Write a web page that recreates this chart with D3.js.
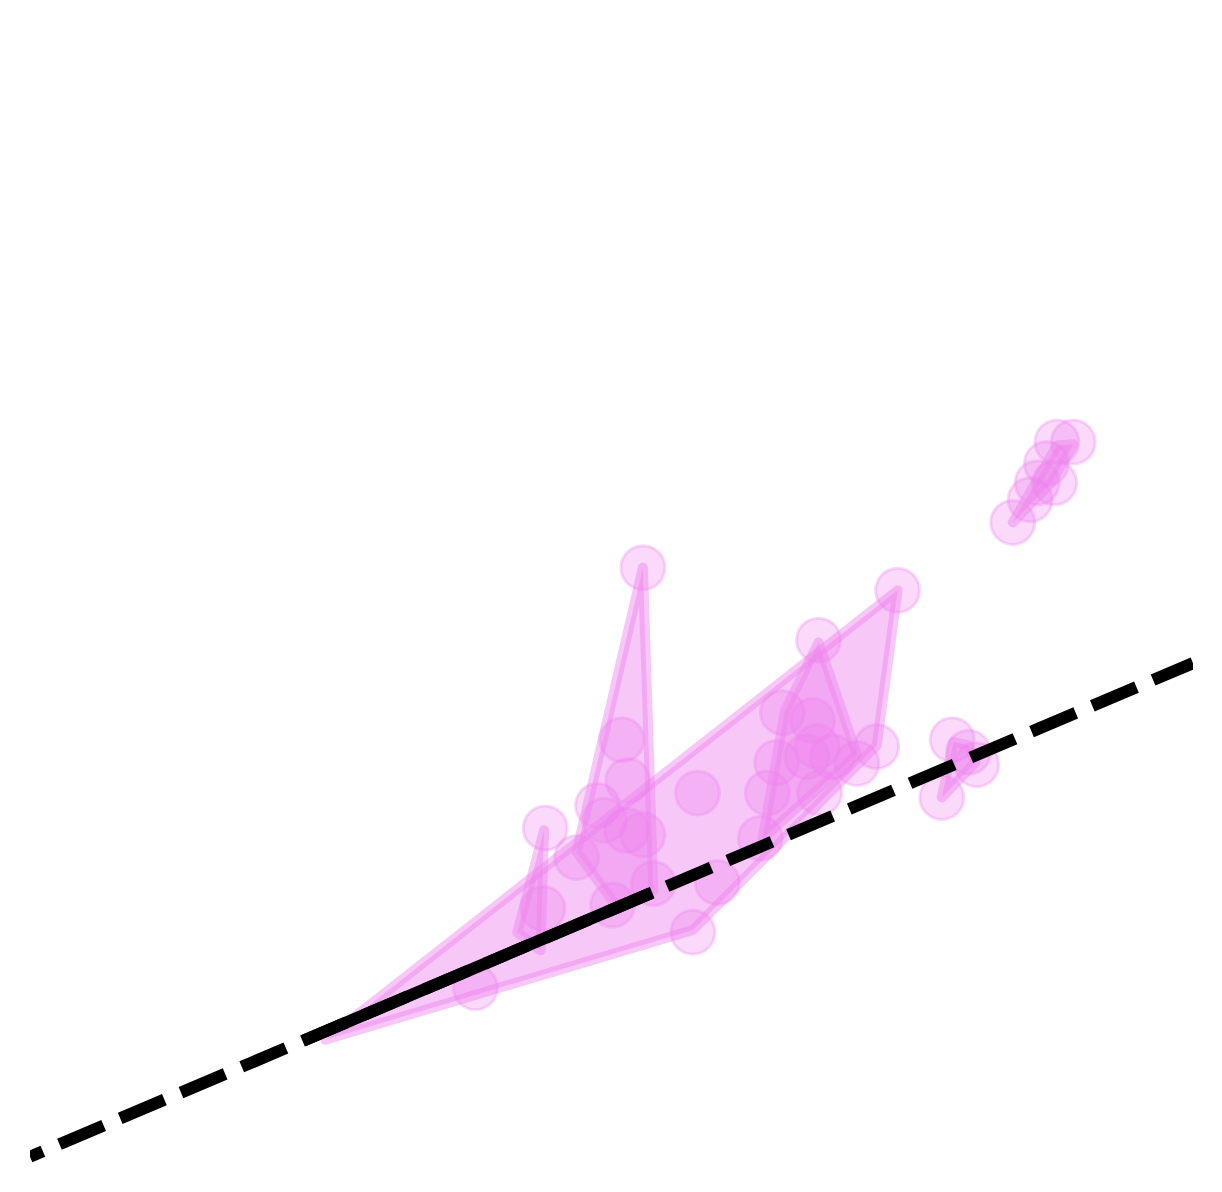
<!DOCTYPE html>
<html>
<head>
<meta charset="utf-8">
<script src="https://cdn.jsdelivr.net/npm/d3@7"></script>
<style>
  html, body { margin: 0; padding: 0; background: #fff; }
  svg { display: block; }
</style>
</head>
<body>
<div id="chart"></div>
<script>
// point coordinates (data units)
const pointX = [5.27, 7.46, 6.78, 5.09, 6.47, 6.73, 6.77, 6.90, 7.28, 7.11,
                5.74, 6.42, 6.34, 6.79, 5.14, 4.94, 4.88, 5.27, 5.13, 4.70,
                4.43, 4.41, 5.01, 5.36, 5.91, 5.70, 6.28, 3.83, 6.68,
                7.93, 8.07, 8.14, 7.84,
                8.83, 8.97, 8.74, 8.81, 8.66, 8.60, 8.45];
const pointY = [5.25, 5.05, 4.61, 3.73, 3.97, 3.90, 3.67, 3.58, 3.67, 3.52,
                3.26, 3.53, 3.26, 3.26, 3.37, 3.02, 3.15, 2.89, 2.93, 2.69,
                2.95, 2.24, 2.27, 2.46, 2.47, 2.03, 2.86, 1.54, 3.58,
                3.73, 3.62, 3.51, 3.22,
                6.36, 6.36, 6.17, 6.00, 6.00, 5.85, 5.65];

// hull outlines per group
const hullMain  = [[2.54, 1.08], [7.46, 5.05], [7.28, 3.68], [5.70, 2.05]];
const hullSpike = [[5.27, 5.25], [4.70, 2.74], [5.05, 2.25], [5.36, 2.40]];
const hullSmall = [[4.42, 2.93], [4.19, 2.03], [4.39, 1.87]];
const hullPeak  = [[6.78, 4.59], [7.11, 3.60], [6.30, 2.86], [6.49, 3.98]];
const hullUpper = [[8.45, 5.65], [8.83, 6.33], [8.97, 6.34], [8.79, 6.01]];
const hullLine  = [[7.84, 3.22], [7.94, 3.71], [8.07, 3.68], [8.13, 3.53]];
const hulls = [hullMain, hullSpike, hullSmall, hullPeak, hullUpper, hullLine];

// reference line and fitted segment
const refIntercept = 0.047;
const refSlope = 0.436;
const refRange = [0, 10];
const fitRange = [2.35, 5.35];

const width = 1222, height = 1192;
const colour = '#EE82EE';

const x = d3.scaleLinear().domain([0, 10]).range([30, 1193]);
const y = d3.scaleLinear().domain([0, 10]).range([1162, 30]);

const svg = d3.select('#chart').append('svg')
  .attr('width', width)
  .attr('height', height)
  .attr('viewBox', `0 0 ${width} ${height}`);

svg.append('defs').append('clipPath').attr('id', 'panel')
  .append('rect')
  .attr('x', x(0)).attr('y', 0)
  .attr('width', x(10) - x(0)).attr('height', height);

const g = svg.append('g').attr('clip-path', 'url(#panel)');

// hulls
g.selectAll('path.hull')
  .data(hulls)
  .enter()
  .append('path')
  .attr('class', 'hull')
  .attr('d', d => 'M' + d.map(p => [x(p[0]), y(p[1])].join(',')).join('L') + 'Z')
  .style('fill', colour)
  .style('fill-opacity', 0.45)
  .style('stroke', colour)
  .style('stroke-opacity', 0.45)
  .style('stroke-width', '10px')
  .style('stroke-linejoin', 'round');

// points
g.selectAll('circle')
  .data(d3.range(pointX.length))
  .enter()
  .append('circle')
  .attr('cx', i => x(pointX[i]))
  .attr('cy', i => y(pointY[i]))
  .attr('r', 22)
  .style('fill', colour)
  .style('fill-opacity', 0.3)
  .style('stroke', colour)
  .style('stroke-opacity', 0.3)
  .style('stroke-width', '3px');

const line = d3.line().x(d => x(d)).y(d => y(refIntercept + refSlope * d));

// dashed reference line
g.append('path')
  .attr('d', line(refRange))
  .style('fill', 'none')
  .style('stroke', '#000')
  .style('stroke-width', '12px')
  .style('stroke-dasharray', '48,18')
  .style('stroke-dashoffset', 34);

// solid segment
g.append('path')
  .attr('d', line(fitRange))
  .style('fill', 'none')
  .style('stroke', '#000')
  .style('stroke-width', '12px');
</script>
</body>
</html>
